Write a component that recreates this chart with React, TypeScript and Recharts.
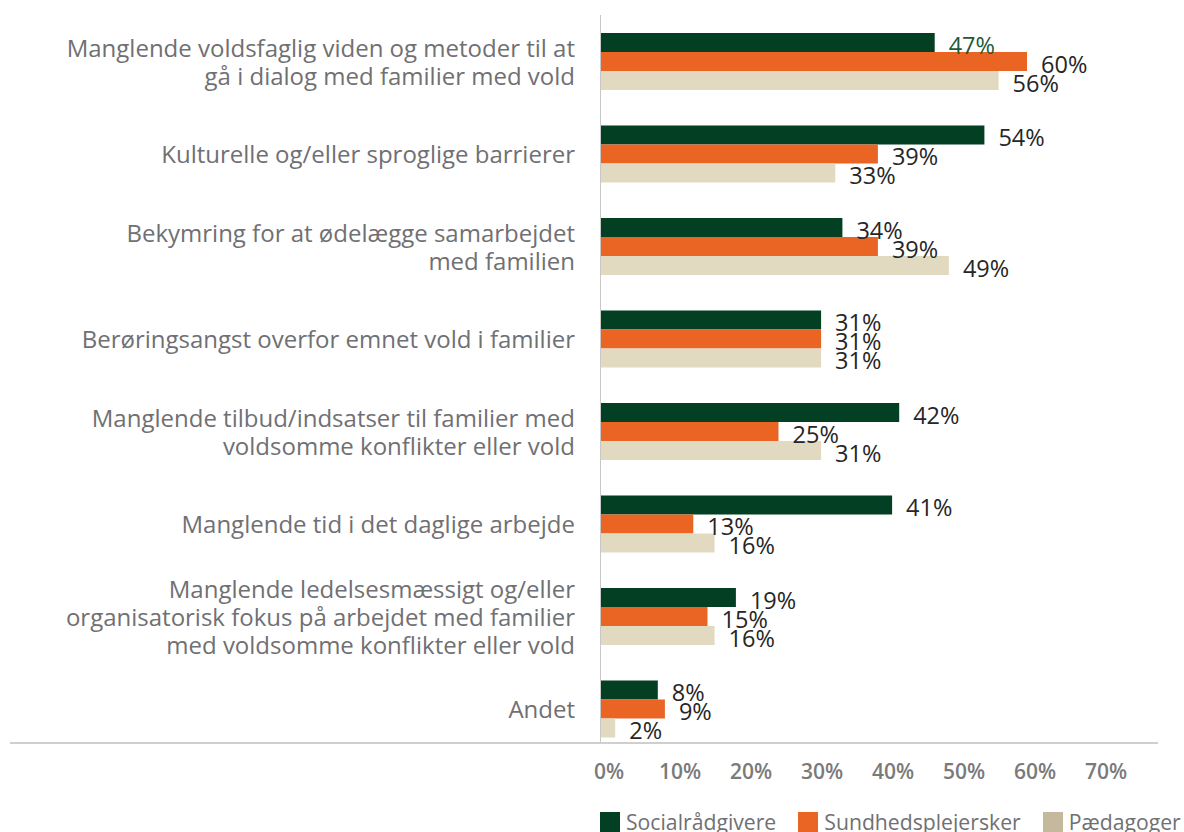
import { Bar, BarChart, LabelList, Legend, XAxis, YAxis } from "recharts";

const categories = [
  "Manglende voldsfaglig viden og metoder til at\ngå i dialog med familier med vold",
  "Kulturelle og/eller sproglige barrierer",
  "Bekymring for at ødelægge samarbejdet\nmed familien",
  "Berøringsangst overfor emnet vold i familier",
  "Manglende tilbud/indsatser til familier med\nvoldsomme konflikter eller vold",
  "Manglende tid i det daglige arbejde",
  "Manglende ledelsesmæssigt og/eller\norganisatorisk fokus på arbejdet med familier\nmed voldsomme konflikter eller vold",
  "Andet",
];

const socialraadgivere = [47, 54, 34, 31, 42, 41, 19, 8];
const sundhedsplejersker = [60, 39, 39, 31, 25, 13, 15, 9];
const paedagoger = [56, 33, 49, 31, 31, 16, 16, 2];

const xTicks = [0, 10, 20, 30, 40, 50, 60, 70];

const GREEN = "#033f22";
const ORANGE = "#ea6424";
const BEIGE = "#e2dac0";
const BEIGE_LEGEND = "#c4b99c";
const FONT = "'Open Sans', 'DejaVu Sans', sans-serif";

const legendItems = [
  { name: "Socialrådgivere", color: GREEN },
  { name: "Sundhedsplejersker", color: ORANGE },
  { name: "Pædagoger", color: BEIGE_LEGEND },
];

const data = categories.map((c, i) => ({
  category: c,
  social: socialraadgivere[i],
  sundhed: sundhedsplejersker[i],
  paed: paedagoger[i],
}));

function CategoryTick({ x, y, payload }: any) {
  const lines = String(payload.value).split("\n");
  const lh = 28;
  const start = -((lines.length - 1) * lh) / 2;
  return (
    <text
      x={x - 18}
      y={y}
      textAnchor="end"
      fill="#707073"
      fontFamily={FONT}
      fontSize={24}
    >
      {lines.map((l, i) => (
        <tspan key={i} x={x - 18} y={y + start + i * lh} dominantBaseline="central">
          {l}
        </tspan>
      ))}
    </text>
  );
}

function PercentTick({ x, y, payload }: any) {
  return (
    <text
      x={x + 8}
      y={y + 8}
      textAnchor="middle"
      dominantBaseline="central"
      fill="#7a7a7a"
      fontFamily={FONT}
      fontWeight={600}
      fontSize={21}
    >
      {payload.value}%
    </text>
  );
}

function valueLabel(firstColor?: string) {
  return (props: any) => {
    const { x, y, width, height, value, index } = props;
    const fill = firstColor && index === 0 ? firstColor : "#262626";
    return (
      <text
        x={x + width + 14}
        y={y + height / 2 + 2}
        dominantBaseline="central"
        fill={fill}
        fontFamily={FONT}
        fontSize={23.5}
      >
        {value}%
      </text>
    );
  };
}

function LegendContent() {
  return (
    <div
      style={{
        display: "flex",
        paddingLeft: 600,
        paddingTop: 6,
        height: 20,
        fontFamily: FONT,
        fontSize: 21.2,
        lineHeight: "20px",
        color: "#707073",
        whiteSpace: "nowrap",
      }}
    >
      {legendItems.map((it) => (
        <div key={it.name} style={{ display: "flex", alignItems: "center", marginRight: 22 }}>
          <span style={{ width: 20, height: 20, background: it.color, marginRight: 6 }} />
          <span>{it.name}</span>
        </div>
      ))}
    </div>
  );
}

export default function App() {
  return (
    <div
      style={{
        position: "absolute",
        left: 0,
        top: 0,
        width: 1184,
        height: 832,
        overflow: "hidden",
        background: "#fff",
      }}
    >
      <BarChart
        width={1184}
        height={832}
        data={data}
        layout="vertical"
        margin={{ top: 15, right: 86, left: 0, bottom: 0 }}
        barCategoryGap={18}
        barGap={0}
      >
        <XAxis
          type="number"
          domain={[0, 70]}
          ticks={xTicks}
          axisLine={false}
          tickLine={false}
          height={51}
          tick={<PercentTick />}
          interval={0}
        />
        <YAxis
          type="category"
          dataKey="category"
          width={601}
          axisLine={false}
          tickLine={false}
          tick={<CategoryTick />}
          interval={0}
        />
        <Legend verticalAlign="bottom" content={<LegendContent />} />
        <Bar dataKey="social" name="Socialrådgivere" fill={GREEN} isAnimationActive={false}>
          <LabelList dataKey="social" content={valueLabel("#1d5a37")} />
        </Bar>
        <Bar dataKey="sundhed" name="Sundhedsplejersker" fill={ORANGE} isAnimationActive={false}>
          <LabelList dataKey="sundhed" content={valueLabel()} />
        </Bar>
        <Bar dataKey="paed" name="Pædagoger" fill={BEIGE} isAnimationActive={false}>
          <LabelList dataKey="paed" content={valueLabel()} />
        </Bar>
      </BarChart>
      <div
        style={{
          position: "absolute",
          left: 600,
          top: 15,
          width: 1,
          height: 728,
          background: "#c8c8c8",
        }}
      />
      <div
        style={{
          position: "absolute",
          left: 10,
          top: 742,
          width: 1148,
          height: 2,
          background: "#cfcfcf",
        }}
      />
    </div>
  );
}
